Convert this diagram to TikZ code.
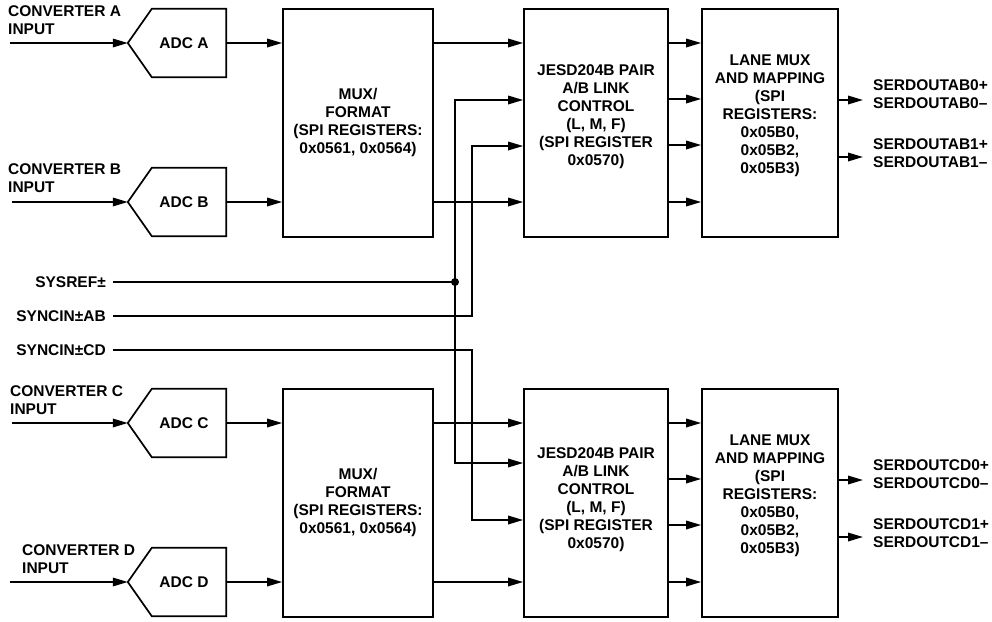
\documentclass[tikz,border=0pt]{standalone}
\usepackage{fontspec}
\setmainfont{Liberation Sans}
\usetikzlibrary{arrows.meta,calc}
\begin{document}
\begin{tikzpicture}[x=1pt,y=-1pt,
  txt/.style={font=\fontsize{15.5}{18}\selectfont\bfseries, inner sep=0pt},
  lbl/.style={txt, align=left, anchor=west},
  ctr/.style={txt, align=center},
  blk/.style={draw, line width=1.7pt, inner sep=0pt},
  adcbody/.style={inner sep=0pt, minimum width=74pt, minimum height=68pt},
  wire/.style={line width=1.7pt, line join=miter},
  arr/.style={wire, -{Triangle[length=15pt,width=8.5pt]}},
]
\useasboundingbox (0,0) rectangle (992,621);

% ---------- ADC bodies ----------
\node[adcbody] (adcA) at (189,43) {};
\node[adcbody] (adcB) at (189,202) {};
\node[adcbody] (adcC) at (189,423) {};
\node[adcbody] (adcD) at (189,582) {};
\foreach \n in {A,B,C,D}{
  \coordinate (adc\n tip) at ($(adc\n.west)+(-24,0)$);
  \draw[wire] (adc\n.north west) -- (adc\n.north east) -- (adc\n.south east)
     -- (adc\n.south west) -- (adc\n tip) -- cycle;
}
\node[ctr] (adcAt) at (184,43) {ADC A};
\node[ctr] (adcBt) at (184,202) {ADC B};
\node[ctr] (adcCt) at (184,423) {ADC C};
\node[ctr] (adcDt) at (184,582) {ADC D};

% ---------- blocks ----------
\node[blk, minimum width=150pt, minimum height=228pt] (muxAB) at (358,123) {};
\node[blk, minimum width=150pt, minimum height=228pt] (muxCD) at (358,503) {};
\node[blk, minimum width=144pt, minimum height=228pt] (jesdAB) at (596,123) {};
\node[blk, minimum width=144pt, minimum height=228pt] (jesdCD) at (596,503) {};
\node[blk, minimum width=136pt, minimum height=228pt] (laneAB) at (770,123) {};
\node[blk, minimum width=136pt, minimum height=228pt] (laneCD) at (770,503) {};

\node[ctr] (muxABt) at (358,122) {MUX/\\FORMAT\\(SPI REGISTERS:\\0x0561, 0x0564)};
\node[ctr] (muxCDt) at (358,502) {MUX/\\FORMAT\\(SPI REGISTERS:\\0x0561, 0x0564)};
\node[ctr] (jesdABt) at (596,117) {JESD204B PAIR\\A/B LINK\\CONTROL\\(L, M, F)\\(SPI REGISTER\\0x0570)};
\node[ctr] (jesdCDt) at (596,500) {JESD204B PAIR\\A/B LINK\\CONTROL\\(L, M, F)\\(SPI REGISTER\\0x0570)};
\node[ctr] (laneABt) at (770,116) {LANE MUX\\AND MAPPING\\(SPI\\REGISTERS:\\0x05B0,\\0x05B2,\\0x05B3)};
\node[ctr] (laneCDt) at (770,496) {LANE MUX\\AND MAPPING\\(SPI\\REGISTERS:\\0x05B0,\\0x05B2,\\0x05B3)};

% ---------- labels ----------
\node[lbl] (convA) at (8,20) {CONVERTER A\\INPUT};
\node[lbl] (convB) at (8,178) {CONVERTER B\\INPUT};
\node[lbl] (convC) at (10,400) {CONVERTER C\\INPUT};
\node[lbl] (convD) at (22,559) {CONVERTER D\\INPUT};
\node[txt, anchor=east] (sysref) at (106,282) {SYSREF±};
\node[txt, anchor=east] (syncab) at (106,316) {SYNCIN±AB};
\node[txt, anchor=east] (synccd) at (106,350) {SYNCIN±CD};
\node[lbl] (serdAB0) at (873,94) {SERDOUTAB0+\\SERDOUTAB0–};
\node[lbl] (serdAB1) at (873,153) {SERDOUTAB1+\\SERDOUTAB1–};
\node[lbl] (serdCD0) at (873,474) {SERDOUTCD0+\\SERDOUTCD0–};
\node[lbl] (serdCD1) at (873,533) {SERDOUTCD1+\\SERDOUTCD1–};

% ---------- coordinates ----------
\coordinate (inA) at (10,43);
\coordinate (inB) at (12,202);
\coordinate (inC) at (12,423);
\coordinate (inD) at (10,582);
\coordinate (sysS) at (113,282);
\coordinate (sysdot) at (455,282);
\coordinate (syncABs) at (113,316);
\coordinate (syncABk) at (472,316);
\coordinate (syncCDs) at (113,350);
\coordinate (syncCDk) at (472,350);
\coordinate (oAB0) at (863,100);
\coordinate (oAB1) at (863,157);
\coordinate (oCD0) at (863,480);
\coordinate (oCD1) at (863,537);

% ---------- connectors ----------
\foreach \n in {A,B,C,D}{
  \draw[arr] (in\n) -- (adc\n tip);
}
\draw[arr] (adcA.east) -- (muxAB.west |- adcA.east);
\draw[arr] (adcB.east) -- (muxAB.west |- adcB.east);
\draw[arr] (adcC.east) -- (muxCD.west |- adcC.east);
\draw[arr] (adcD.east) -- (muxCD.west |- adcD.east);

\draw[arr] (muxAB.east |- adcA.east) -- (jesdAB.west |- adcA.east);
\draw[arr] (muxAB.east |- adcB.east) -- (jesdAB.west |- adcB.east);
\draw[arr] (muxCD.east |- adcC.east) -- (jesdCD.west |- adcC.east);
\draw[arr] (muxCD.east |- adcD.east) -- (jesdCD.west |- adcD.east);

\draw[wire] (sysS) -- (sysdot);
\draw[arr] (sysdot) |- (jesdAB.west |- 0,100);
\draw[arr] (sysdot) |- (jesdCD.west |- 0,463);
\fill (sysdot) circle (4pt);
\draw[arr] (syncABs) -- (syncABk) |- (jesdAB.west |- 0,146);
\draw[arr] (syncCDs) -- (syncCDk) |- (jesdCD.west |- 0,520);

\foreach \yy in {43,99,145,202}{
  \draw[arr] (jesdAB.east |- 0,\yy) -- (laneAB.west |- 0,\yy);
}
\foreach \yy in {423,479,525,582}{
  \draw[arr] (jesdCD.east |- 0,\yy) -- (laneCD.west |- 0,\yy);
}
\draw[arr] (laneAB.east |- oAB0) -- (oAB0);
\draw[arr] (laneAB.east |- oAB1) -- (oAB1);
\draw[arr] (laneCD.east |- oCD0) -- (oCD0);
\draw[arr] (laneCD.east |- oCD1) -- (oCD1);
\end{tikzpicture}
\end{document}
